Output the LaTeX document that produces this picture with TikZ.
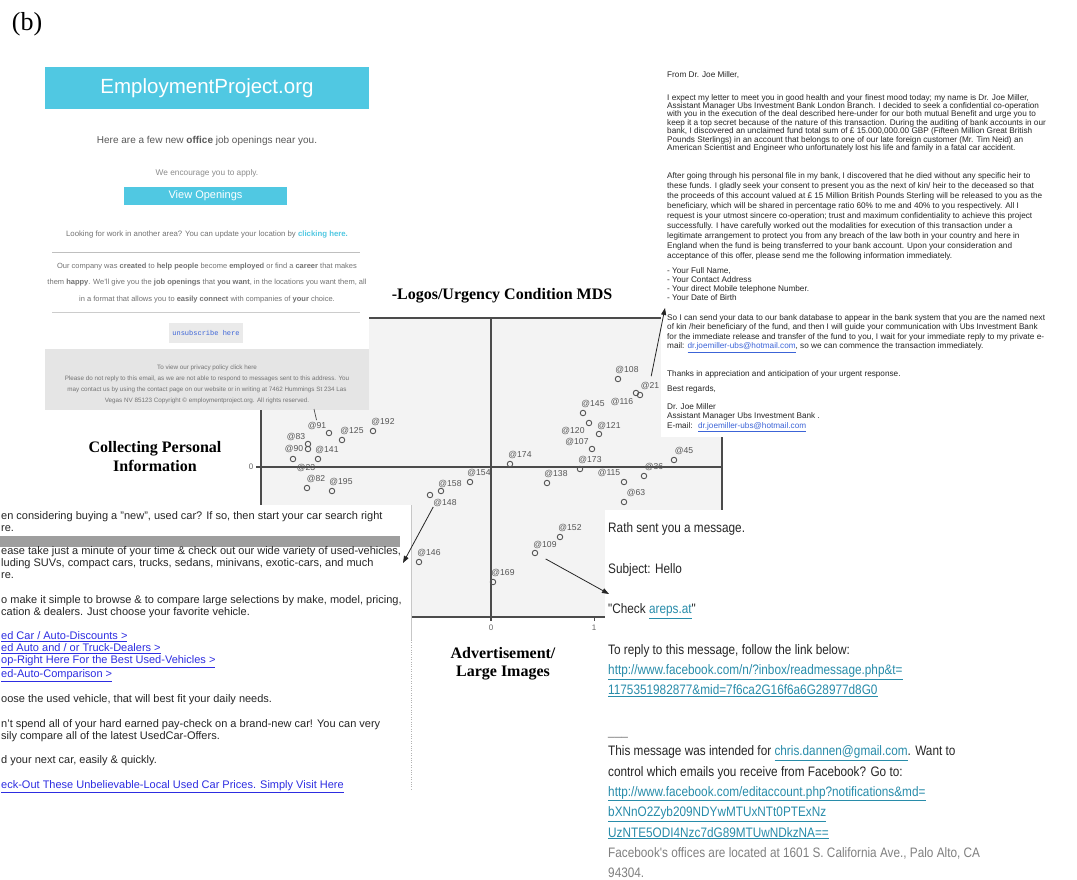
\documentclass[tikz,border=0pt]{standalone}
\usepackage{fontspec}
\setmainfont{Liberation Serif}
\setsansfont{Liberation Sans}
\setmonofont{Liberation Mono}
\newfontfamily\narrowsans{Liberation Sans}[FakeStretch=0.86]
\usetikzlibrary{positioning,arrows.meta}

\definecolor{plotbg}{RGB}{243,243,243}
\definecolor{axisgray}{RGB}{75,75,75}
\definecolor{ptgray}{RGB}{85,85,85}
\definecolor{jobcyan}{RGB}{80,200,226}
\definecolor{footgray}{RGB}{229,229,229}
\definecolor{linkblue}{RGB}{45,45,225}
\definecolor{fbteal}{RGB}{40,140,170}
\definecolor{mailblue}{RGB}{60,100,215}

\newcommand{\fsz}[2]{\fontsize{#1}{#2}\selectfont}
\newcommand{\adlink}[1]{\textcolor{linkblue}{\underline{#1}}}
\newcommand{\fblink}[1]{\textcolor{fbteal}{\underline{#1}}}
\newcommand{\maillink}[1]{\textcolor{mailblue}{\underline{#1}}}

\begin{document}
\begin{tikzpicture}[x=1pt,y=-1pt]
		\tikzstyle{mdspoint} = [circle, draw=ptgray, line width = 0.9pt, inner sep = 0pt, minimum size = 5.5pt];
		\tikzstyle{mdslabel} = [inner sep = 0pt, text = ptgray, font = \sffamily\fsz{8.6}{10}];
		\tikzstyle{ticklabel} = [inner sep = 0pt, text = black!60, font = \sffamily\fsz{8}{10}];
		\tikzstyle{quadrant} = [inner sep = 0pt, align = center, font = \bfseries\fsz{16}{19}];
		\tikzstyle{callout} = [draw = black!85, line width = 0.8pt, -{Triangle[length = 7pt, width = 5pt]}];
		\tikzstyle{mailtext} = [inner sep = 0pt, anchor = north west, align = left, text = black!85];
		\useasboundingbox (0,0) rectangle (1077,879);
		\node (panel) at (27,24) [inner sep = 0pt, font = \fsz{26}{30}] {(b)};
		% MDS plot
		\fill [plotbg] (261,318) rectangle (722,617);
		\draw [axisgray, line width = 1.4pt] (261,318) rectangle (722,617);
		\draw [axisgray, line width = 1.3pt] (491,318) -- (491,621);
		\draw [axisgray, line width = 1.6pt] (256,467) -- (722,467);
		\draw [axisgray, line width = 0.8pt] (594,617) -- (594,621);
		\node (xzero) at (491,628) [ticklabel] {0};
		\node (xone) at (594,628) [ticklabel] {1};
		\node (yzero) at (251,467) [ticklabel] {0};
		\node (title) at (502,296) [quadrant] {-Logos/Urgency Condition MDS};
		\node (persinfo) at (155,457) [quadrant] {Collecting Personal\\Information};
		\node (advert) at (503,664) [quadrant, font = \bfseries\fsz{16}{18}] {Advertisement/\\Large Images};
		\node (p91) [mdspoint] at (329,433) {};
		\node (l91) [mdslabel] at (317,426) {@91};
		\node (p125) [mdspoint] at (342,440) {};
		\node (l125) [mdslabel] at (352,431) {@125};
		\node (p192) [mdspoint] at (373,431) {};
		\node (l192) [mdslabel] at (383,422) {@192};
		\node (p83) [mdspoint] at (308,444) {};
		\node (l83) [mdslabel] at (296,437) {@83};
		\node (p90) [mdspoint] at (308,449) {};
		\node (l90) [mdslabel] at (294,449) {@90};
		\node (p141) [mdspoint] at (318,459) {};
		\node (l141) [mdslabel] at (327,450) {@141};
		\node (p23) [mdspoint] at (293,459) {};
		\node (l23) [mdslabel] at (306,468) {@23};
		\node (p82) [mdspoint] at (307,488) {};
		\node (l82) [mdslabel] at (316,479) {@82};
		\node (p195) [mdspoint] at (332,491) {};
		\node (l195) [mdslabel] at (341,482) {@195};
		\node (p154) [mdspoint] at (470,482) {};
		\node (l154) [mdslabel] at (479,473) {@154};
		\node (p158) [mdspoint] at (441,491) {};
		\node (l158) [mdslabel] at (450,484) {@158};
		\node (p148) [mdspoint] at (430,495) {};
		\node (l148) [mdslabel] at (445,503) {@148};
		\node (p174) [mdspoint] at (510,464) {};
		\node (l174) [mdslabel] at (520,455) {@174};
		\node (p138) [mdspoint] at (547,483) {};
		\node (l138) [mdslabel] at (556,474) {@138};
		\node (p173) [mdspoint] at (580,469) {};
		\node (l173) [mdslabel] at (590,460) {@173};
		\node (p107) [mdspoint] at (592,449) {};
		\node (l107) [mdslabel] at (577,442) {@107};
		\node (p120) [mdspoint] at (589,423) {};
		\node (l120) [mdslabel] at (573,431) {@120};
		\node (p121) [mdspoint] at (599,434) {};
		\node (l121) [mdslabel] at (609,426) {@121};
		\node (p145) [mdspoint] at (583,413) {};
		\node (l145) [mdslabel] at (593,404) {@145};
		\node (p116) [mdspoint] at (636,393) {};
		\node (l116) [mdslabel] at (622,402) {@116};
		\node (p21) [mdspoint] at (640,395) {};
		\node (l21) [mdslabel] at (650,386) {@21};
		\node (p108) [mdspoint] at (618,379) {};
		\node (l108) [mdslabel] at (627,370) {@108};
		\node (p115) [mdspoint] at (624,482) {};
		\node (l115) [mdslabel] at (609,473) {@115};
		\node (p36) [mdspoint] at (644,476) {};
		\node (l36) [mdslabel] at (654,467) {@36};
		\node (p63) [mdspoint] at (624,502) {};
		\node (l63) [mdslabel] at (636,493) {@63};
		\node (p45) [mdspoint] at (674,460) {};
		\node (l45) [mdslabel] at (684,451) {@45};
		\node (p152) [mdspoint] at (560,537) {};
		\node (l152) [mdslabel] at (570,528) {@152};
		\node (p109) [mdspoint] at (535,553) {};
		\node (l109) [mdslabel] at (545,545) {@109};
		\node (p146) [mdspoint] at (419,562) {};
		\node (l146) [mdslabel] at (429,553) {@146};
		\node (p169) [mdspoint] at (493,582) {};
		\node (l169) [mdslabel] at (503,573) {@169};
		% job offer mail, top left
		\fill [white] (40,60) rectangle (369,410);
		\fill [jobcyan] (45,67) rectangle (369,109);
		\node (jobhead) at (207,88) [text = white, font = \sffamily\fsz{20.5}{24}] {EmploymentProject.org};
		\node (jobintro) at (207,141) [text = black!65, font = \sffamily\fsz{10}{12}] {Here are a few new \textbf{office} job openings near you.};
		\node (jobapply) at (207,173) [text = black!45, font = \sffamily\fsz{8.3}{10}] {We encourage you to apply.};
		\node (jobbutton) at (205.5,196) [fill = jobcyan, inner sep = 0pt, minimum width = 163pt, minimum height = 18pt, text = white, font = \sffamily\fsz{11}{13}] {View Openings};
		\node (jobmove) at (207,234) [text = black!55, font = \sffamily\fsz{7.8}{10}] {Looking for work in another area? You can update your location by \textcolor{jobcyan}{\textbf{clicking here.}}};
		\draw [black!25, line width = 0.8pt] (52,252) -- (360,252);
		\node (jobabout) at (207,283) [align = center, text = black!55, font = \sffamily\fsz{7.5}{16.5}] {Our company was \textbf{created} to \textbf{help people} become \textbf{employed} or find a \textbf{career} that makes\\them \textbf{happy}. We'll give you the \textbf{job openings} that \textbf{you want}, in the locations you want them, all\\in a format that allows you to \textbf{easily connect} with companies of \textbf{your} choice.};
		\draw [black!20, line width = 0.6pt] (52,312) -- (360,312);
		\node (jobunsub) at (206,333) [fill = footgray!80, inner sep = 0pt, minimum width = 74pt, minimum height = 20pt, text = mailblue, font = \ttfamily\fsz{7}{8}] {unsubscribe here};
		\fill [footgray] (45,349) rectangle (369,410);
		\node (jobfooter) at (207,384.5) [align = center, text = black!55, font = \sffamily\fsz{6.3}{11}] {To view our privacy policy click here\\Please do not reply to this email, as we are not able to respond to messages sent to this address. You\\may contact us by using the contact page on our website or in writing at 7462 Hummings St 234 Las\\Vegas NV 85123 Copyright © employmentproject.org. All rights reserved.};
		% bank mail, top right
		\fill [white] (661,60) rectangle (1077,437);
		\node (bankfrom) at (667,71) [mailtext, font = \sffamily\fsz{8.2}{8.4}] {From Dr. Joe Miller,};
		\node (bankpara1) at (667,94) [mailtext, font = \sffamily\fsz{8.2}{8.4}] {I expect my letter to meet you in good health and your finest mood today; my name is Dr. Joe Miller,\\Assistant Manager Ubs Investment Bank London Branch. I decided to seek a confidential co-operation\\with you in the execution of the deal described here-under for our both mutual Benefit and  urge you to\\keep it a top secret because of the nature of this transaction. During the auditing of bank accounts in our\\bank, I discovered an unclaimed fund total sum of £ 15.000,000.00 GBP (Fifteen Million Great British\\Pounds Sterlings) in an account that belongs to one of our late foreign customer (Mr. Tim Neid) an\\American Scientist and Engineer who unfortunately lost his life and family in a fatal car accident.};
		\node (bankpara2) at (667,172) [mailtext, font = \sffamily\fsz{8.2}{10.1}] {After going through his personal file in my bank, I discovered that he died without any specific heir to\\these funds. I gladly  seek your consent to present you as the next of kin/ heir to the deceased so that\\the proceeds of this account valued at £ 15 Million British Pounds Sterling will be released to you as the\\beneficiary, which  will be shared in percentage ratio 60\% to me and 40\% to you respectively.  All I\\request is your utmost sincere co-operation; trust and maximum confidentiality to achieve this project\\successfully. I have carefully worked out the modalities for execution of this transaction under a\\legitimate arrangement to protect you from any breach of the law both in your country and here in\\England when the fund is being transferred to your bank account. Upon your consideration and\\acceptance of this offer, please send me the following information immediately.};
		\node (banklist) at (667,267) [mailtext, font = \sffamily\fsz{8.2}{9.2}] {- Your Full Name,\\- Your Contact Address\\- Your direct Mobile telephone Number.\\- Your Date of Birth};
		\node (bankpara3) at (667,314) [mailtext, font = \sffamily\fsz{8.2}{9.6}] {So I can send your data to our bank database to appear in the bank system that you are the named next\\of kin /heir beneficiary of the fund, and then I will guide your communication with Ubs Investment Bank\\for the immediate release and transfer of the fund to you, I wait for your immediate reply to my private e-\\mail: \maillink{dr.joemiller-ubs@hotmail.com}, so we can commence the transaction immediately.};
		\node (bankthanks) at (667,370) [mailtext, font = \sffamily\fsz{8.2}{15}] {Thanks in appreciation and anticipation of your urgent response.\\Best regards,};
		\node (banksign) at (667,403) [mailtext, font = \sffamily\fsz{8.2}{9.6}] {Dr. Joe Miller\\Assistant Manager Ubs Investment Bank .\\E-mail: \ \maillink{dr.joemiller-ubs@hotmail.com}};
		% used car mail, bottom left
		\fill [white] (0,505) rectangle (411,790);
		\draw [black!22, line width = 0.8pt] (411,505) -- (411,640);
		\draw [black!30, dotted] (411,640) -- (411,790);
		\fill [black!38] (0,536) rectangle (400,547);
		\node (carmail) at (1,511.7) [mailtext, font = \sffamily\fsz{11}{12}] {en considering buying a "new", used car? If so, then start your car search right\\re.\\[11pt]ease take just a minute of your time \& check out our wide variety of used-vehicles,\\luding SUVs, compact cars, trucks, sedans, minivans, exotic-cars, and much\\re.\\[13pt]o make it simple to browse \& to compare large selections by make, model, pricing,\\cation \& dealers. Just choose your favorite vehicle.\\[12pt]\adlink{ed Car / Auto-Discounts >}\\\adlink{ed Auto and / or Truck-Dealers >}\\\adlink{op-Right Here For the Best Used-Vehicles >}\\\adlink{ed-Auto-Comparison >}\\[12pt]oose the used vehicle, that will best fit your daily needs.\\[13pt]n't spend all of your hard earned pay-check on a brand-new car! You can very\\sily compare all of the latest UsedCar-Offers.\\[12pt]d your next car, easily \& quickly.\\[13pt]\adlink{eck-Out These Unbelievable-Local Used Car Prices. Simply Visit Here}};
		% facebook mail, bottom right
		\fill [white] (605,510) rectangle (1077,879);
		\node (fbmail) at (608,522.4) [mailtext, font = \narrowsans\fsz{13.7}{20.3}] {Rath sent you a message.\\[20.3pt]Subject: Hello\\[20.3pt]"Check \fblink{areps.at}"\\[20.3pt]To reply to this message, follow the link below:\\\fblink{http://www.facebook.com/n/?inbox/readmessage.php\&t=}\\\fblink{1175351982877\&mid=7f6ca2G16f6a6G28977d8G0}\\[20.3pt]\textcolor{black!50}{\_\_\_}\\This message was intended for \fblink{chris.dannen@gmail.com}. Want to\\control which emails you receive from Facebook? Go to:\\\fblink{http://www.facebook.com/editaccount.php?notifications\&md=}\\\fblink{bXNnO2Zyb209NDYwMTUxNTt0PTExNz}\\\fblink{UzNTE5ODI4Nzc7dG89MTUwNDkzNA==}\\\textcolor{black!50}{Facebook's offices are located at 1601 S. California Ave., Palo Alto, CA}\\\textcolor{black!50}{94304.}};
		% callouts
		\coordinate (jobtip) at (314,409);
		\coordinate (fraudtip) at (665,308);
		\coordinate (adtip) at (403,563);
		\coordinate (phishtip) at (609,594);
		\draw [black!70, line width = 0.7pt, shorten < = 2pt] (l91.north) -- (jobtip);
		\path [callout, shorten < = 6pt] (l21.north) -- (fraudtip);
		\path [callout] (l148.south west) -- (adtip);
		\path [callout, shorten < = 9pt] (p109) -- (phishtip);
	\end{tikzpicture}
\end{document}
